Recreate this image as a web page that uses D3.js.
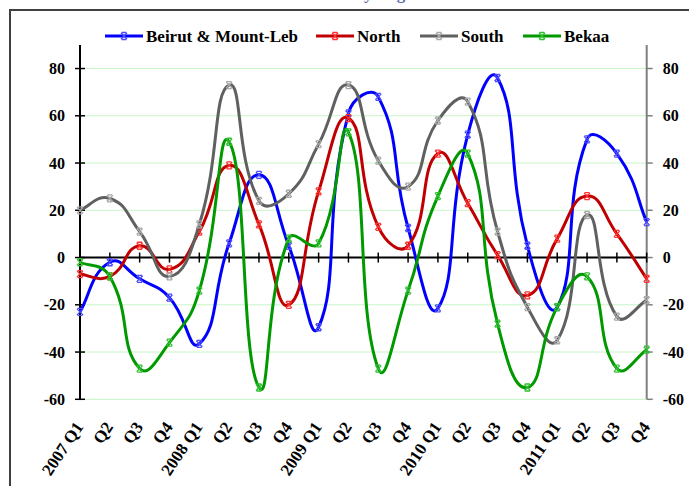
<html>
<head>
<style>
  body { margin: 0; background: #fff; }
  text { font-family: "Liberation Serif", "Times New Roman", serif; font-weight: bold; }
</style>
</head>
<body>
<svg id="chart" width="689" height="486"></svg>
<script src="https://cdnjs.cloudflare.com/ajax/libs/d3/7.8.5/d3.min.js"></script>
<script>
var quarters = ["2007 Q1","Q2","Q3","Q4","2008 Q1","Q2","Q3","Q4","2009 Q1","Q2","Q3","Q4",
                "2010 Q1","Q2","Q3","Q4","2011 Q1","Q2","Q3","Q4"];
var beirut = [-23,-2,-9,-17,-36.5,6,35,5,-29.5,61,68,12.5,-21.5,52,76,5,-21,50,44,15];
var north  = [-7,-8,5,-5,11,39,14,-20,28,59,13,5,44,23,1,-16,8,26,10,-9];
var south  = [20,25,11,-8,14,73,24,27,48,73,41,30,58,66,11,-21,-35,18,-25,-18];
var bekaa  = [-2,-8,-47,-36,-14,49,-55,8,6,53,-47,-14,26,44,-28,-55,-21,-8,-47,-39];
var yTicks = [-60,-40,-20,0,20,40,60,80];

var series = [
  {name: "Beirut & Mount-Leb", values: beirut, color: "#0000ff", marker: "#4a4aff"},
  {name: "North", values: north, color: "#c00000", marker: "#ff3030"},
  {name: "South", values: south, color: "#606060", marker: "#a8a8a8"},
  {name: "Bekaa", values: bekaa, color: "#009900", marker: "#30c030"}
];

var svg = d3.select("#chart");
var x = d3.scalePoint().domain(d3.range(quarters.length)).range([80, 646.7]);
var y = d3.scaleLinear().domain([-60, 90]).range([399.3, 44.9]);

// smoothed line like the spreadsheet one: bezier, tangents weighted by segment lengths
function smoothPath(vals) {
  var p = vals.map((v, i) => [x(i), y(v)]);
  var n = p.length, t = 0.5;
  var dist = (a, b) => Math.hypot(b[0] - a[0], b[1] - a[1]);
  var path = d3.path();
  path.moveTo(p[0][0], p[0][1]);
  for (var i = 0; i < n - 1; i++) {
    var p0 = p[Math.max(i - 1, 0)], p1 = p[i], p2 = p[i + 1], p3 = p[Math.min(i + 2, n - 1)];
    var d01 = dist(p0, p1), d12 = dist(p1, p2), d23 = dist(p2, p3);
    var f1 = t * d12 / (d01 + d12), f2 = t * d12 / (d12 + d23);
    if (i === 0) f1 = 1 / 3;
    if (i === n - 2) f2 = 1 / 3;
    path.bezierCurveTo(
      p1[0] + (p2[0] - p0[0]) * f1, p1[1] + (p2[1] - p0[1]) * f1,
      p2[0] - (p3[0] - p1[0]) * f2, p2[1] - (p3[1] - p1[1]) * f2,
      p2[0], p2[1]);
  }
  return path.toString();
}

// frame
svg.append("rect").attr("x", 10).attr("y", 10).attr("width", 700).attr("height", 500)
  .attr("fill", "none").attr("stroke", "#404040").attr("stroke-width", 2);

// title, cut off at the top edge as in the source
svg.append("text").attr("x", 340).attr("y", -1).attr("text-anchor", "middle")
  .attr("fill", "#5b6fae").style("font-size", "17px").text("Sales of Land by Region");

// gridlines
svg.append("g").selectAll("line").data(yTicks.filter(d => d !== 0)).join("line")
  .attr("x1", 80).attr("x2", 646.7).attr("y1", d => y(d)).attr("y2", d => y(d))
  .attr("stroke", "#c8f5c8").attr("stroke-width", 1);

// left axis
var gl = svg.append("g").attr("transform", "translate(80,0)");
gl.append("line").attr("y1", 44.9).attr("y2", 399.3).attr("stroke", "#000").attr("stroke-width", 2);
gl.selectAll(".tk").data(yTicks).join("line").attr("x1", -5).attr("x2", 5)
  .attr("y1", d => y(d)).attr("y2", d => y(d)).attr("stroke", "#000").attr("stroke-width", 1.5);
gl.selectAll(".lb").data(yTicks).join("text").attr("x", -15).attr("y", d => y(d)).attr("dy", "0.35em")
  .attr("text-anchor", "end").style("font-size", "16px").text(d => d);

// right axis
var gr = svg.append("g").attr("transform", "translate(646.7,0)");
gr.append("line").attr("y1", 44.9).attr("y2", 399.3).attr("stroke", "#808080").attr("stroke-width", 2);
gr.selectAll(".tk").data(yTicks).join("line").attr("x1", 0).attr("x2", 6)
  .attr("y1", d => y(d)).attr("y2", d => y(d)).attr("stroke", "#808080").attr("stroke-width", 1.5);
gr.selectAll(".lb").data(yTicks).join("text").attr("x", 16).attr("y", d => y(d)).attr("dy", "0.35em")
  .attr("text-anchor", "start").style("font-size", "16px").text(d => d);

// x axis at zero
var gx = svg.append("g");
gx.append("line").attr("x1", 80).attr("x2", 646.7).attr("y1", y(0)).attr("y2", y(0))
  .attr("stroke", "#000").attr("stroke-width", 2);
gx.selectAll(".tk").data(d3.range(quarters.length)).join("line")
  .attr("x1", d => x(d)).attr("x2", d => x(d)).attr("y1", y(0) - 5).attr("y2", y(0) + 5)
  .attr("stroke", "#000").attr("stroke-width", 1.5);
gx.selectAll(".lb").data(d3.range(quarters.length)).join("text")
  .attr("transform", d => "translate(" + (x(d) + 4) + ",427) rotate(-56)")
  .attr("text-anchor", "end").style("font-size", "17px").text(d => quarters[d]);

// lines
var markerPath = "M-3,-3L3,3M3,-3L-3,3M-2.5,-3.5H2.5M-2.5,3.5H2.5";

series.forEach(function(s) {
  var g = svg.append("g");
  g.append("path").attr("d", smoothPath(s.values)).attr("fill", "none")
    .attr("stroke", s.color).attr("stroke-width", 3);
  g.selectAll("path.m").data(s.values).join("path").attr("class", "m")
    .attr("transform", (d, i) => "translate(" + x(i) + "," + y(d) + ")")
    .attr("d", markerPath).attr("fill", "none").attr("stroke", s.marker).attr("stroke-width", 1.3);
});

// legend
var legendX = [105, 316, 420, 523];
series.forEach(function(s, i) {
  var g = svg.append("g").attr("transform", "translate(" + legendX[i] + ",36)");
  g.append("line").attr("x1", 0).attr("x2", 38).attr("stroke", s.color).attr("stroke-width", 3);
  g.append("path").attr("transform", "translate(19,0)").attr("d", markerPath)
    .attr("fill", "none").attr("stroke", s.marker).attr("stroke-width", 1.3);
  g.append("text").attr("x", 41).attr("dy", "0.35em").style("font-size", "17px").text(s.name);
});
</script>
</body>
</html>
